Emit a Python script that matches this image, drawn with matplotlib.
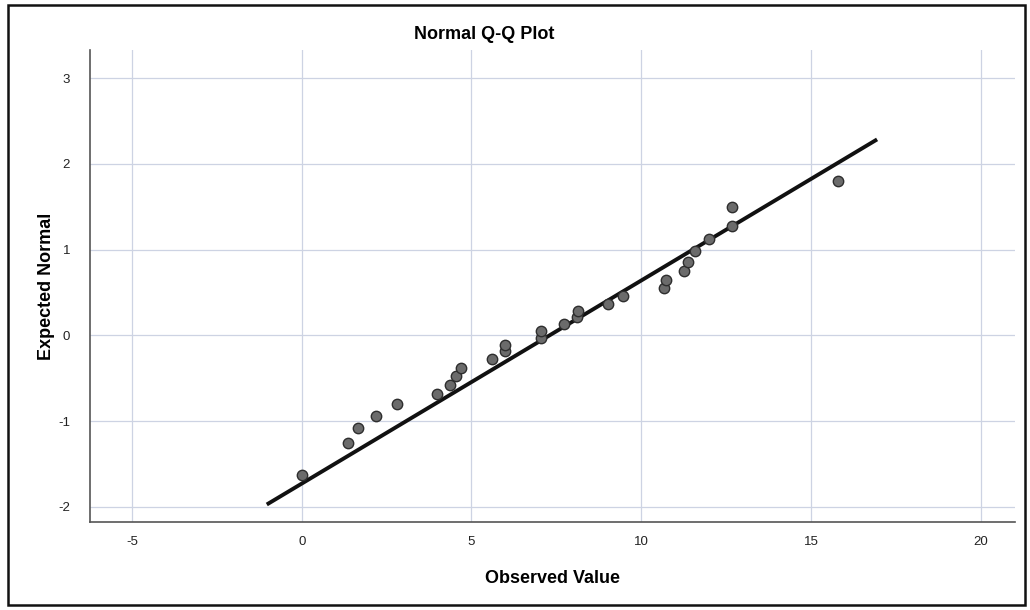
import matplotlib
matplotlib.use("Agg")
import matplotlib.pyplot as plt
from matplotlib.patches import Rectangle
import numpy as np

plt.rcParams['font.family'] = ['Liberation Sans', 'DejaVu Sans']
plt.rcParams['axes.unicode_minus'] = False

observed = [0.0, 1.35, 1.66, 2.19, 2.82, 3.99, 4.38, 4.53, 4.68, 5.60,
            5.98, 6.00, 7.05, 7.05, 7.72, 8.12, 8.15, 9.02, 9.47, 10.68,
            10.74, 11.25, 11.38, 11.58, 12.00, 12.68, 12.68, 15.80]
expected = [-1.63, -1.26, -1.08, -0.94, -0.80, -0.69, -0.58, -0.48, -0.38, -0.28,
            -0.18, -0.11, -0.03, 0.05, 0.13, 0.21, 0.29, 0.37, 0.46, 0.55,
            0.65, 0.75, 0.86, 0.99, 1.12, 1.28, 1.50, 1.80]

# Reference line (normal fit): mean and sd, drawn over this x range
line_mean = 7.3
line_sd = 4.22
line_x = [-1.03, 16.95]

x_ticks = [-5, 0, 5, 10, 15, 20]
y_ticks = [-2, -1, 0, 1, 2, 3]

title = "Normal Q-Q Plot"
x_label = "Observed Value"
y_label = "Expected Normal"

fig = plt.figure(figsize=(10.3, 6.1), dpi=100)
fig.patch.set_facecolor('white')
ax = fig.add_axes([0.087, 0.144, 0.898, 0.774])

lx = np.array(line_x)
ly = (lx - line_mean) / line_sd
ax.plot(lx, ly, color='#111111', lw=2.8, solid_capstyle='butt', zorder=3)
ax.scatter(observed, expected, s=56, facecolor='#6b6b6b', edgecolor='#2e2e2e',
           linewidths=1.0, zorder=4)

ax.set_xlim(-6.25, 21.0)
ax.set_ylim(-2.18, 3.33)
ax.set_xticks(x_ticks)
ax.set_yticks(y_ticks)
ax.grid(True, color='#cdd3e3', lw=0.9, zorder=0)
ax.set_axisbelow(True)
for s in ['top', 'right']:
    ax.spines[s].set_visible(False)
for s in ['left', 'bottom']:
    ax.spines[s].set_color('#555555')
    ax.spines[s].set_linewidth(1.2)
ax.tick_params(axis='both', length=0, labelsize=9.5, colors='#222222', pad=14)
ax.tick_params(axis='x', pad=10)

ax.set_xlabel(x_label, fontsize=13, fontweight='bold', labelpad=16)
ax.set_ylabel(y_label, fontsize=13, fontweight='bold', labelpad=2)
fig.text(0.47, 0.944, title, ha='center', va='center', fontsize=13, fontweight='bold')

fig.patches.append(Rectangle((0.008, 0.008), 0.987, 0.984, transform=fig.transFigure,
                             fill=False, edgecolor='#111111', lw=1.8))

fig.savefig('out.png', dpi=100, facecolor='white')
